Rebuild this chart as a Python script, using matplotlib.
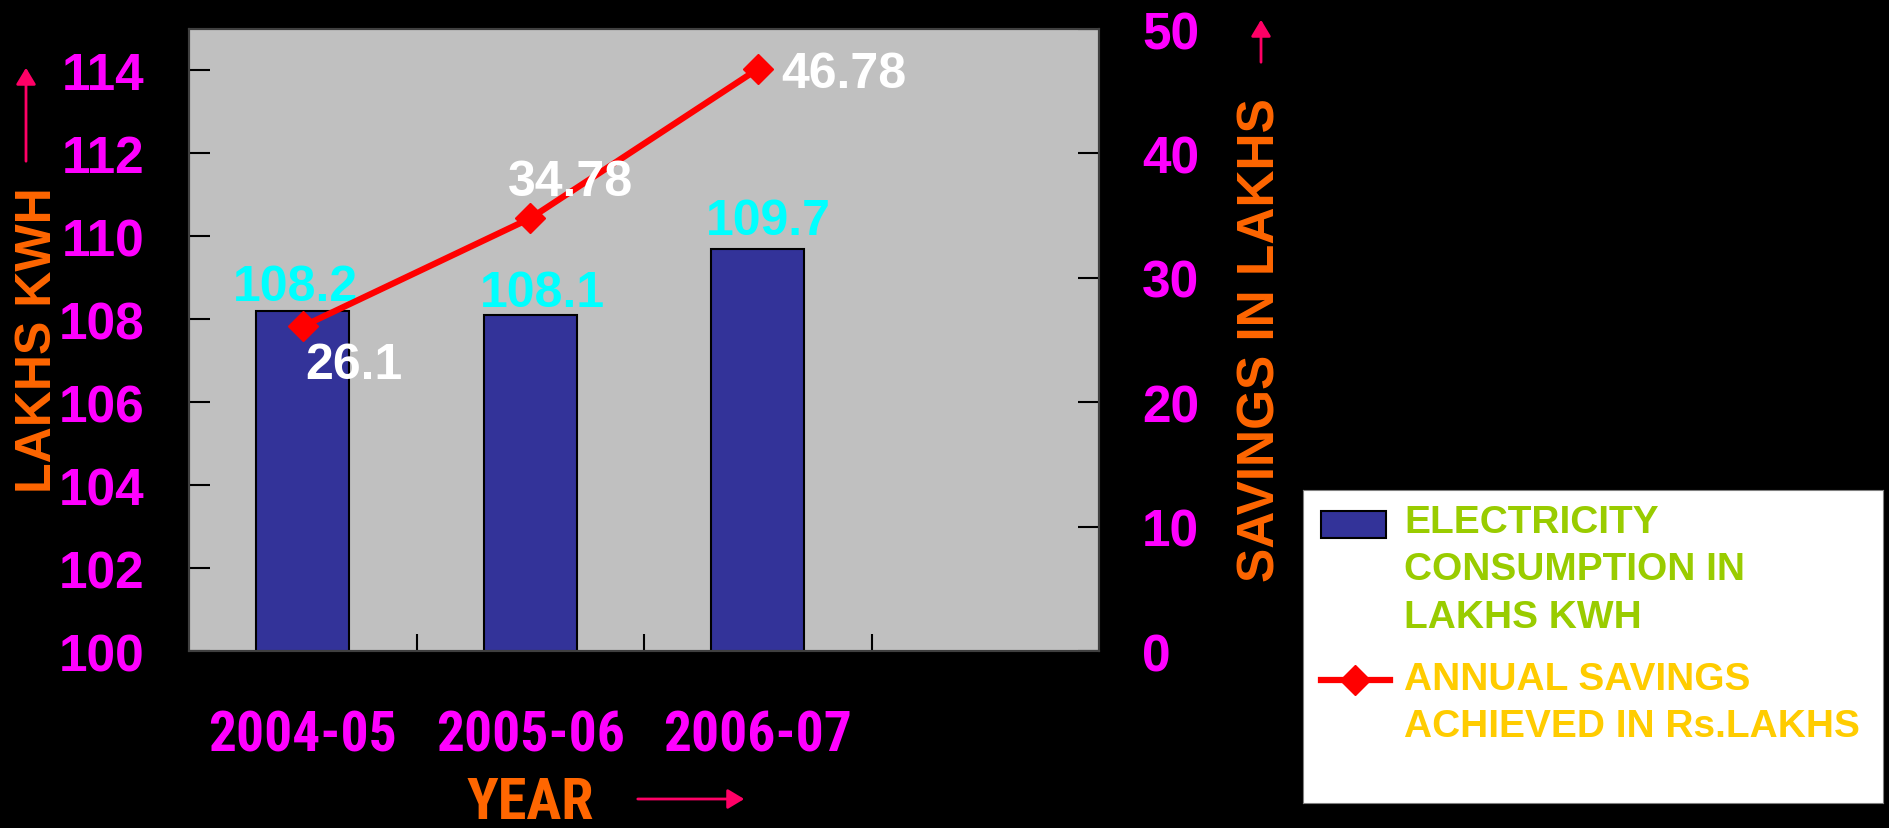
import numpy as np
import matplotlib
matplotlib.use("Agg")
import matplotlib.pyplot as plt
from matplotlib import font_manager
from matplotlib.patches import Rectangle, FancyArrowPatch
from matplotlib.lines import Line2D

# chart data
years = ["2004-05", "2005-06", "2006-07"]
consumption = [108.2, 108.1, 109.7]
savings = [26.1, 34.78, 46.78]
left_ticks = [100, 102, 104, 106, 108, 110, 112, 114]
right_ticks = [0, 10, 20, 30, 40, 50]
legend_labels = ["ELECTRICITY\nCONSUMPTION IN\nLAKHS KWH",
                 "ANNUAL SAVINGS\nACHIEVED IN Rs.LAKHS"]

installed = {f.name for f in font_manager.fontManager.ttflist}
narrow = "Liberation Sans"
for name in ["Liberation Sans Narrow", "Arial Narrow", "Roboto Condensed",
             "Archivo Narrow", "Barlow Condensed"]:
    if name in installed:
        narrow = name
        break
plt.rcParams["font.family"] = ["Liberation Sans", "DejaVu Sans"]
plt.rcParams["font.weight"] = "bold"

MAGENTA = "#FF00FF"
ORANGE = "#FF6600"
ARROW = "#FF0066"
BAR = "#333399"
W, H = 1890, 829

fig = plt.figure(figsize=(18.9, 8.29), dpi=100, facecolor="black")


def fp(px, py):
    # output pixels (from top-left) -> figure fraction
    return (px / W, 1 - py / H)


ax = fig.add_axes([0.100, 0.2135, 0.4815, 0.7503])
ax.set_facecolor("#C0C0C0")
x = np.arange(len(years)) + 0.5
ax.bar(x, consumption, width=0.41, color=BAR, edgecolor="black", linewidth=1.5, zorder=2)
ax.set_xlim(0, 4)
ax.set_ylim(100, 115)
ax.set_yticks(left_ticks)
ax.set_yticklabels([str(t) for t in left_ticks], color=MAGENTA, fontsize=37, fontweight="bold")
ax.tick_params(axis="y", direction="in", length=15, width=1.5, color="black", pad=32)
ax.set_xticks(x)
ax.set_xticklabels(years, color=MAGENTA, fontsize=40, fontweight="bold", family=[narrow, "DejaVu Sans"])
ax.tick_params(axis="x", which="major", length=0, pad=42)
ax.set_xticks([1, 2, 3], minor=True)
ax.tick_params(axis="x", which="minor", direction="in", length=12, width=1.5, color="black")
for s in ax.spines.values():
    s.set_color("#404040")
    s.set_linewidth(1.5)

bar_offsets = [(-5, 17.5), (8.7, 16), (7.8, 20)]
for xi, v, off in zip(x, consumption, bar_offsets):
    ax.annotate(f"{v}", (xi, v), xytext=off, textcoords="offset points",
                ha="center", va="center", color="cyan", fontsize=36, fontweight="bold")

ax2 = ax.twinx()
ax2.set_ylim(0, 50)
ax2.plot(x, savings, color="red", linewidth=4.5, marker="D", markersize=15,
         markeredgecolor="red", zorder=3)
ax2.set_yticks(right_ticks)
ax2.set_yticklabels([str(t) for t in right_ticks], color=MAGENTA, fontsize=37, fontweight="bold")
ax2.tick_params(axis="y", direction="in", length=15, width=1.5, color="black", pad=31)
for s in ax2.spines.values():
    s.set_color("#404040")
    s.set_linewidth(1.5)

label_offsets = [(37, -27.6), (29, 26.5), (62, -3.5)]
for xi, v, off in zip(x, savings, label_offsets):
    ax2.annotate(f"{v}", (xi, v), xytext=off, textcoords="offset points",
                 ha="center", va="center", color="white", fontsize=36, fontweight="bold")

# axis titles and arrows
fig.text(*fp(38, 340), "LAKHS KWH", rotation=90, ha="center", va="center",
         color=ORANGE, fontsize=36, fontweight="bold")
fig.text(*fp(1261, 340), "SAVINGS IN LAKHS", rotation=90, ha="center", va="center",
         color=ORANGE, fontsize=37, fontweight="bold")
fig.text(*fp(530, 804), "YEAR", ha="center", va="center",
         color=ORANGE, fontsize=42, fontweight="bold", family=[narrow, "DejaVu Sans"])

for start, end in [((26, 165), (26, 66)), ((1261, 66), (1261, 18)), ((635, 800), (747, 800))]:
    fig.add_artist(FancyArrowPatch(
        fp(*start), fp(*end), transform=fig.transFigure,
        arrowstyle="-|>,head_length=10,head_width=6", color=ARROW, lw=2))

# legend box
lax = fig.add_axes([1303 / W, 1 - 804 / H, 580 / W, 313 / H])
lax.set_facecolor("white")
lax.set_xlim(0, 580)
lax.set_ylim(313, 0)
lax.set_xticks([])
lax.set_yticks([])
for s in lax.spines.values():
    s.set_color("#808080")
lax.add_patch(Rectangle((18, 21), 65, 27, facecolor=BAR, edgecolor="black", linewidth=1.5))
lax.add_line(Line2D([18, 87], [190, 190], color="red", linewidth=4.5))
lax.add_line(Line2D([52.5], [190], color="red", marker="D", markersize=15))
lax.text(101, 79.5, legend_labels[0], ha="left", va="center", color="#99CC00",
         fontsize=28, fontweight="bold", linespacing=1.41)
lax.text(101, 212.5, legend_labels[1], ha="left", va="center", color="#FFCC00",
         fontsize=28, fontweight="bold", linespacing=1.41)

fig.savefig("out.png", dpi=100, facecolor="black")
